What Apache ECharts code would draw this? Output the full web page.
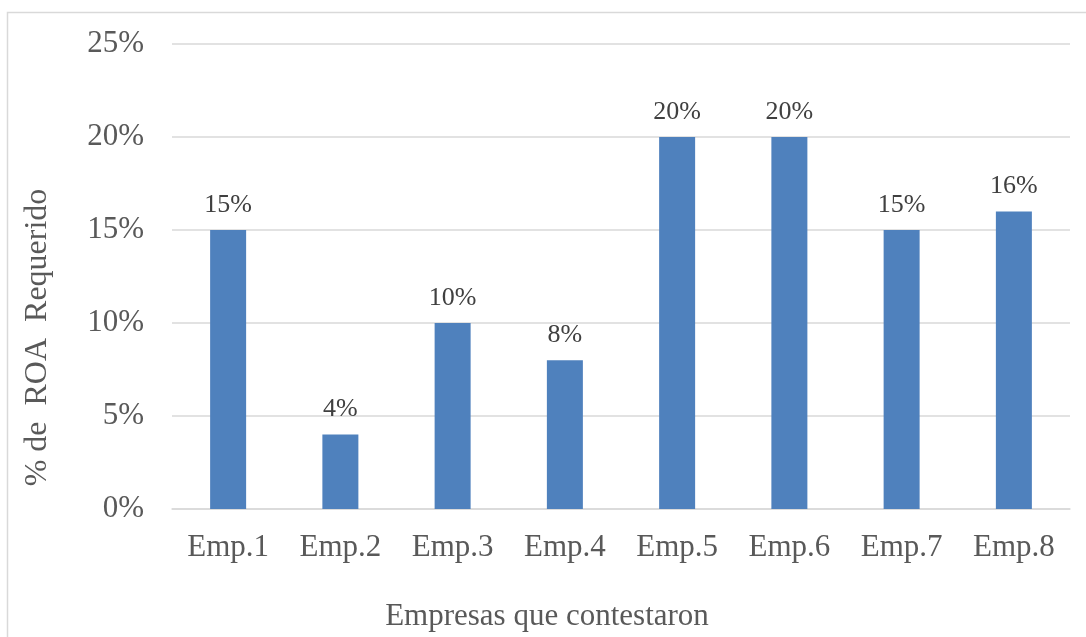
<!DOCTYPE html>
<html>
<head>
<meta charset="utf-8">
<script src="https://cdn.jsdelivr.net/npm/echarts@6/dist/echarts.min.js"></script>
<style>
  html, body { margin: 0; padding: 0; background: #fff; }
  #chart { width: 1086px; height: 637px; }
</style>
</head>
<body>
<div id="chart"></div>
<script>
// ROA requerido por empresa
const categories = ['Emp.1', 'Emp.2', 'Emp.3', 'Emp.4', 'Emp.5', 'Emp.6', 'Emp.7', 'Emp.8'];
const roaValues = [15, 4, 10, 8, 20, 20, 15, 16];
const yTicks = [0, 5, 10, 15, 20, 25];

const serif = '"Liberation Serif", "DejaVu Serif", serif';

const chart = echarts.init(document.getElementById('chart'), null, { renderer: 'canvas' });

chart.setOption({
  backgroundColor: '#ffffff',
  animation: false,
  graphic: [{
    type: 'rect',
    shape: { x: 7.5, y: 12.5, width: 1200, height: 800 },
    style: { fill: 'none', stroke: '#D9D9D9', lineWidth: 1.5 },
    silent: true,
    z: -1
  }],
  grid: { left: 172, right: 16, top: 44, bottom: 127 },
  xAxis: {
    type: 'category',
    data: categories,
    name: 'Empresas que contestaron',
    nameLocation: 'middle',
    nameGap: 92,
    nameTextStyle: {
      fontFamily: serif, fontSize: 31, color: '#595959',
      padding: [0, 148, 0, 0]
    },
    axisLine: { show: true, lineStyle: { color: '#D9D9D9', width: 1.5 } },
    axisTick: { show: false },
    axisLabel: { fontFamily: serif, fontSize: 31, color: '#595959', margin: 23 }
  },
  yAxis: {
    type: 'value',
    min: yTicks[0],
    max: yTicks[yTicks.length - 1],
    interval: 5,
    name: '% de  ROA  Requerido',
    nameLocation: 'middle',
    nameGap: 118,
    nameRotate: 90,
    nameTextStyle: {
      fontFamily: serif, fontSize: 32, color: '#595959',
      padding: [0, 122, 0, 0]
    },
    axisLine: { show: false },
    axisTick: { show: false },
    axisLabel: {
      fontFamily: serif, fontSize: 31, color: '#595959', margin: 28,
      formatter: v => v + '%'
    },
    splitLine: { lineStyle: { color: '#D9D9D9', width: 1.5 } }
  },
  series: [{
    type: 'bar',
    data: roaValues,
    barWidth: 36,
    itemStyle: { color: '#4F81BD' },
    label: {
      show: true,
      position: 'top',
      distance: 12,
      fontFamily: serif,
      fontSize: 26,
      color: '#404040',
      formatter: p => p.value + '%'
    }
  }]
});
</script>
</body>
</html>
